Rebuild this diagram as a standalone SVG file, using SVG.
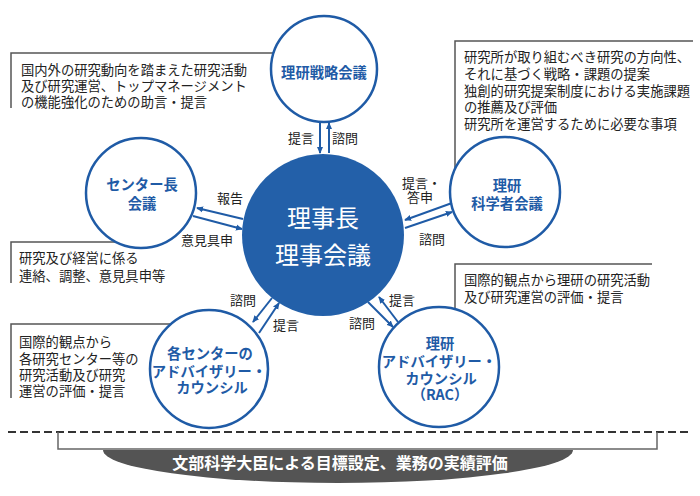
<svg xmlns="http://www.w3.org/2000/svg" width="700" height="496" viewBox="0 0 700 496">
<style>
text{font-family:"Noto Sans CJK JP","Noto Sans",sans-serif;}
.box{fill:none;stroke:#555;stroke-width:1.5;}
.bt{font-size:13.3px;fill:#222;}
.lb{font-size:13px;fill:#222;}
.c{fill:#fff;stroke:#1f5ba6;stroke-width:2.5;}
.ct{font-size:14.3px;font-weight:bold;fill:#1f5ba6;text-anchor:middle;}
.ar{stroke:#1f5ba6;stroke-width:2;fill:none;marker-end:url(#ah);}
</style>
<defs>
<marker id="ah" viewBox="0 0 8 8" refX="7" refY="4" markerWidth="7" markerHeight="7" markerUnits="userSpaceOnUse" orient="auto">
<path d="M0,0.5 L8,4 L0,7.5 z" fill="#1f5ba6"/>
</marker>
</defs>
<rect width="700" height="496" fill="#fff"/>
<g id="boxes">
<path class="box" d="M11,108 V53 H300"/>
<path class="box" d="M455,175 V41 H693"/>
<path class="box" d="M11,283 V242 H140"/>
<path class="box" d="M11,398 V324 H205"/>
<path class="box" d="M455,320 V264 H652"/>
<g class="bt">
<text x="21" y="74.5">国内外の研究動向を踏まえた研究活動<tspan x="21" dy="16">及び研究運営、トップマネージメント</tspan><tspan x="21" dy="16">の機能強化のための助言・提言</tspan></text>
<text x="464" y="62">研究所が取り組むべき研究の方向性、<tspan x="464" dy="17">それに基づく戦略・課題の提案</tspan><tspan x="464" dy="16.5">独創的研究提案制度における実施課題</tspan><tspan x="464" dy="16.5">の推薦及び評価</tspan><tspan x="464" dy="17">研究所を運営するために必要な事項</tspan></text>
<text x="19" y="263">研究及び経営に係る<tspan x="19" dy="18">連絡、調整、意見具申等</tspan></text>
<text x="19" y="347">国際的観点から<tspan x="19" dy="16.5">各研究センター等の</tspan><tspan x="19" dy="16.5">研究活動及び研究</tspan><tspan x="19" dy="16">運営の評価・提言</tspan></text>
<text x="464" y="285">国際的観点から理研の研究活動<tspan x="464" dy="17">及び研究運営の評価・提言</tspan></text>
</g>
</g>
<g id="n-center">
<circle cx="323" cy="235" r="81" fill="#2360a9"/>
<text x="323" y="227" font-size="24" fill="#fff" text-anchor="middle">理事長<tspan x="323" dy="37">理事会議</tspan></text>
</g>
<g id="n-strategy">
<circle class="c" cx="324" cy="69" r="53"/>
<text class="ct" x="324" y="77.5">理研戦略会議</text>
</g>
<g id="n-centerheads">
<circle class="c" cx="141" cy="193" r="55"/>
<text class="ct" x="142" y="190">センター長<tspan x="142" dy="18.5">会議</tspan></text>
</g>
<g id="n-scientists">
<circle class="c" cx="505" cy="192" r="55"/>
<text class="ct" x="507" y="190.5">理研<tspan x="507" dy="18">科学者会議</tspan></text>
</g>
<g id="n-centerac">
<circle class="c" cx="209" cy="369" r="59"/>
<text class="ct" x="210" y="358.5">各センターの<tspan x="209" dy="18">アドバイザリー・</tspan><tspan x="212" dy="16.5">カウンシル</tspan></text>
</g>
<g id="n-rac">
<circle class="c" cx="439" cy="367" r="60"/>
<text class="ct" x="440" y="348.5">理研<tspan x="439" dy="18">アドバイザリー・</tspan><tspan x="441" dy="17">カウンシル</tspan><tspan x="440" dy="16.5">（RAC）</tspan></text>
</g>
<g id="connectors">
<line class="ar" x1="320" y1="123" x2="320" y2="153"/>
<line class="ar" x1="329" y1="153" x2="329" y2="123"/>
<line class="ar" x1="243" y1="219" x2="197" y2="208"/>
<line class="ar" x1="193" y1="216" x2="242" y2="229"/>
<line class="ar" x1="452" y1="203" x2="405" y2="220"/>
<line class="ar" x1="405" y1="228" x2="452" y2="212"/>
<line class="ar" x1="272" y1="298" x2="253" y2="322"/>
<line class="ar" x1="259" y1="333" x2="279" y2="303"/>
<line class="ar" x1="368" y1="302" x2="393" y2="327"/>
<line class="ar" x1="398" y1="322" x2="379" y2="297"/>
<g class="lb">
<text x="301" y="143" text-anchor="middle">提言</text>
<text x="345" y="143" text-anchor="middle">諮問</text>
<text x="230" y="203" text-anchor="middle">報告</text>
<text x="207" y="245" text-anchor="middle">意見具申</text>
<text x="402" y="188">提言・<tspan x="407" dy="14">答申</tspan></text>
<text x="432" y="244" text-anchor="middle">諮問</text>
<text x="243" y="305" text-anchor="middle">諮問</text>
<text x="286" y="330" text-anchor="middle">提言</text>
<text x="402" y="305" text-anchor="middle">提言</text>
<text x="362" y="328" text-anchor="middle">諮問</text>
</g>
</g>
<g id="bottom">
<line x1="8" y1="432" x2="692" y2="432" stroke="#333" stroke-width="2" stroke-dasharray="8 4"/>
<path d="M58,432 V449 H657 V432" fill="none" stroke="#666" stroke-width="1.5"/>
<path d="M103,450 A235,33 0 0 0 573,450 Z" fill="#545454"/>
<text x="340" y="469" font-size="16" font-weight="bold" fill="#fff" text-anchor="middle">文部科学大臣による目標設定、業務の実績評価</text>
</g>
</svg>
